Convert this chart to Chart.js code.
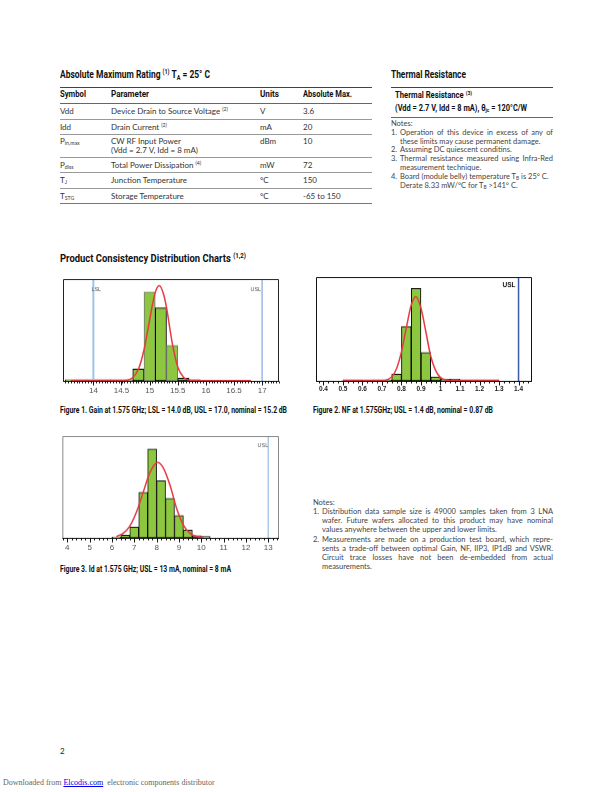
<!DOCTYPE html>
<html>
<head>
<meta charset="utf-8">
<script src="https://cdn.jsdelivr.net/npm/chart.js@4.4.1/dist/chart.umd.min.js"></script>
<style>
  html, body { margin: 0; padding: 0; background: #fff; }
  body { position: relative; width: 612px; height: 792px; overflow: hidden; font-family: Lato, 'Open Sans', sans-serif; color: #333; }
  .t { position: absolute; white-space: nowrap; line-height: 1; }
  .hd { font-family: Roboto, 'Liberation Sans', sans-serif; font-weight: bold; color: #111; transform-origin: 0 0; }
  .b8 { font-size: 8px; }
  .n7 { font-size: 7.5px; color: #444; }
  .n8 { font-size: 7.5px; color: #444; }
  .j { white-space: normal; text-align: justify; text-align-last: justify; }
  .rule { position: absolute; height: 0; border-top: 1px solid #999; }
  sub, sup { font-size: 65%; line-height: 0; }
  sub { vertical-align: -0.25em; }
  sup { vertical-align: 0.55em; }
  .wrap { position: absolute; }
</style>
</head>
<body>

<!-- Absolute maximum rating table -->
<div class="t hd" data-w="150" style="left:60px;top:68.5px;font-size:11.5px;">Absolute Maximum Rating <sup>(1)</sup> T<sub>A</sub> = 25° C</div>
<div class="rule" style="left:60px;top:87px;width:312px;border-color:#444;"></div>
<div class="t hd" data-w="26" style="left:60px;top:90.3px;font-size:8.6px;">Symbol</div>
<div class="t hd" data-w="38" style="left:111px;top:90.3px;font-size:8.6px;">Parameter</div>
<div class="t hd" data-w="19" style="left:260px;top:90.3px;font-size:8.6px;">Units</div>
<div class="t hd" data-w="49" style="left:303px;top:90.3px;font-size:8.6px;">Absolute Max.</div>
<div class="rule" style="left:60px;top:103px;width:312px;border-color:#666;"></div>

<div class="t b8" style="left:60px;top:106.5px;">Vdd</div>
<div class="t b8" style="left:111px;top:106.5px;">Device Drain to Source Voltage <sup>(2)</sup></div>
<div class="t b8" style="left:260px;top:106.5px;">V</div>
<div class="t b8" style="left:303px;top:106.5px;">3.6</div>
<div class="rule" style="left:60px;top:119px;width:312px;"></div>

<div class="t b8" style="left:60px;top:122.5px;">Idd</div>
<div class="t b8" style="left:111px;top:122.5px;">Drain Current <sup>(2)</sup></div>
<div class="t b8" style="left:260px;top:122.5px;">mA</div>
<div class="t b8" style="left:303px;top:122.5px;">20</div>
<div class="rule" style="left:60px;top:134px;width:312px;"></div>

<div class="t b8" style="left:60px;top:137px;">P<sub>in,max</sub></div>
<div class="t b8" style="left:111px;top:137px;">CW RF Input Power</div>
<div class="t b8" style="left:111px;top:146.3px;">(Vdd = 2.7 V, Idd = 8 mA)</div>
<div class="t b8" style="left:260px;top:137px;">dBm</div>
<div class="t b8" style="left:303px;top:137px;">10</div>
<div class="rule" style="left:60px;top:157px;width:312px;"></div>

<div class="t b8" style="left:60px;top:160.5px;">P<sub>diss</sub></div>
<div class="t b8" style="left:111px;top:160.5px;">Total Power Dissipation <sup>(4)</sup></div>
<div class="t b8" style="left:260px;top:160.5px;">mW</div>
<div class="t b8" style="left:303px;top:160.5px;">72</div>
<div class="rule" style="left:60px;top:172px;width:312px;"></div>

<div class="t b8" style="left:60px;top:175.5px;">T<sub>J</sub></div>
<div class="t b8" style="left:111px;top:175.5px;">Junction Temperature</div>
<div class="t b8" style="left:260px;top:175.5px;">°C</div>
<div class="t b8" style="left:303px;top:175.5px;">150</div>
<div class="rule" style="left:60px;top:188px;width:312px;"></div>

<div class="t b8" style="left:60px;top:191.5px;">T<sub>STG</sub></div>
<div class="t b8" style="left:111px;top:191.5px;">Storage Temperature</div>
<div class="t b8" style="left:260px;top:191.5px;">°C</div>
<div class="t b8" style="left:303px;top:191.5px;">-65 to 150</div>
<div class="rule" style="left:60px;top:203px;width:312px;border-color:#777;"></div>

<!-- Thermal resistance -->
<div class="t hd" data-w="75" style="left:391px;top:68.5px;font-size:11.5px;">Thermal Resistance</div>
<div class="rule" style="left:391px;top:87px;width:162px;border-color:#444;"></div>
<div class="t hd" data-w="77" style="left:395px;top:90.7px;font-size:9px;">Thermal Resistance <sup>(3)</sup></div>
<div class="t hd" data-w="132" style="left:395px;top:103.7px;font-size:9px;">(Vdd = 2.7 V, Idd = 8 mA), θ<sub>jc</sub> = 120°C/W</div>
<div class="rule" style="left:391px;top:117px;width:162px;border-color:#666;"></div>
<div class="t n7" style="left:391px;top:120px;">Notes:</div>
<div class="t n7" style="left:391px;top:129px;">1.</div>
<div class="t n7 j" style="left:400px;top:129px;width:153px;">Operation of this device in excess of any of</div>
<div class="t n7" style="left:400px;top:137.6px;">these limits may cause permanent damage.</div>
<div class="t n7" style="left:391px;top:146.4px;">2.</div>
<div class="t n7" style="left:400px;top:146.4px;">Assuming DC quiescent conditins.</div>
<div class="t n7" style="left:391px;top:155px;">3.</div>
<div class="t n7 j" style="left:400px;top:155px;width:153px;">Thermal resistance measured using Infra-Red</div>
<div class="t n7" style="left:400px;top:163.6px;">measurement technique.</div>
<div class="t n7" style="left:391px;top:173px;">4.</div>
<div class="t n7" style="left:400px;top:173px;">Board (module belly) temperature T<sub>B</sub> is 25° C.</div>
<div class="t n7" style="left:400px;top:182px;">Derate 8.33 mW/°C for T<sub>B</sub> &gt;141° C.</div>

<!-- Distribution charts -->
<div class="t hd" data-w="186" style="left:60px;top:252.5px;font-size:11.5px;">Product Consistency Distribution Charts <sup>(1,2)</sup></div>

<div class="wrap" id="wrap-gain"><canvas id="chart-gain"></canvas></div>
<div class="wrap" id="wrap-nf"><canvas id="chart-nf"></canvas></div>
<div class="wrap" id="wrap-id"><canvas id="chart-id"></canvas></div>

<div class="t hd" data-w="227" style="left:60px;top:405.5px;font-size:8.6px;">Figure 1. Gain at 1.575 GHz; LSL = 14.0 dB, USL = 17.0, nominal = 15.2 dB</div>
<div class="t hd" data-w="180" style="left:313px;top:405.5px;font-size:8.6px;">Figure 2. NF at 1.575GHz; USL = 1.4 dB, nominal = 0.87 dB</div>
<div class="t hd" data-w="171" style="left:60px;top:564.5px;font-size:8.6px;">Figure 3. Id at 1.575 GHz; USL = 13 mA, nominal = 8 mA</div>

<div class="t n8" style="left:313px;top:499px;">Notes:</div>
<div class="t n8" style="left:313px;top:508px;">1.</div>
<div class="t n8 j" style="left:322px;top:508px;width:231px;">Distribution data sample size is 49000 samples taken from 3 LNA</div>
<div class="t n8 j" style="left:322px;top:517px;width:231px;">wafer. Future wafers allocated to this product may have nominal</div>
<div class="t n8" style="left:322px;top:526px;">values anywhere between the upper and lower limits.</div>
<div class="t n8" style="left:313px;top:536px;">2.</div>
<div class="t n8 j" style="left:322px;top:536px;width:231px;">Measurements are made on a production test board, which repre-</div>
<div class="t n8 j" style="left:322px;top:545px;width:231px;">sents a trade-off between optimal Gain, NF, IIP3, IP1dB and VSWR.</div>
<div class="t n8 j" style="left:322px;top:554px;width:231px;">Circuit trace losses have not been de-embedded from actual</div>
<div class="t n8" style="left:322px;top:563px;">measurements.</div>

<div class="t" style="left:60px;top:747.4px;font-size:8px;color:#222;">2</div>
<div class="t" style="left:3px;top:779px;font-size:8px;color:#666;font-family:'Liberation Serif','DejaVu Serif',serif;">Downloaded from <span style="color:#00e;text-decoration:underline;">Elcodis.com</span> &nbsp;electronic components distributor</div>

<script>
// Figure 1: Gain (dB), bins 0.2 dB wide, % of samples
var gainBinMid = [13.6, 13.8, 14.0, 14.2, 14.4, 14.6, 14.8, 15.0, 15.2, 15.4, 15.6, 15.8];
var gainBinPct = [0.6, 0.6, 0.6, 0.6, 0.6, 0.6, 5.5, 41.5, 34.1, 16.6, 1.3, 0.6];
var gainBinEdge = ['#222', '#222', '#222', '#222', '#222', '#888', '#000', '#777', '#000', '#777', '#000', '#000'];
var gainFitX = [13.6, 14.0, 14.4, 14.6, 14.7, 14.8, 14.9, 15.0, 15.05, 15.1, 15.17, 15.25, 15.3, 15.4, 15.5, 15.6, 15.7, 15.8, 16.0, 16.4, 16.8];
var gainFitY = [0.1, 0.1, 0.1, 0.3, 1.5, 5.4, 14.5, 28.5, 35.6, 41.3, 44.5, 40.3, 34.3, 18.0, 6.5, 1.8, 0.4, 0.1, 0.1, 0.1, 0.1];
var gainTicks = [14, 14.5, 15, 15.5, 16, 16.5, 17];
var gainLSL = 14.0;
var gainUSL = 17.0;

// Figure 2: NF (dB), bins 0.05 dB wide
var nfBinMid = [0.525, 0.575, 0.675, 0.725, 0.775, 0.825, 0.875, 0.925, 0.975, 1.025, 1.075, 1.125, 1.175, 1.225, 1.275];
var nfBinPct = [0.5, 0.5, 0.5, 0.5, 3.6, 28.6, 48.7, 14.9, 2.1, 0.9, 0.9, 0.5, 0.5, 0.5, 0.5];
var nfFitX = [0.5, 0.6, 0.7, 0.75, 0.775, 0.8, 0.825, 0.85, 0.873, 0.9, 0.925, 0.95, 0.975, 1.0, 1.05, 1.1, 1.2, 1.3];
var nfFitY = [0.2, 0.2, 0.2, 2.1, 6.5, 15.3, 28.0, 40.0, 44.4, 38.4, 25.9, 13.0, 5.5, 1.8, 0.2, 0.2, 0.2, 0.2];
var nfTicks = [0.4, 0.5, 0.6, 0.7, 0.8, 0.9, 1, 1.1, 1.2, 1.3, 1.4];
var nfUSL = 1.4;

// Figure 3: Id (mA), bins 0.4 mA wide
var idBinMid = [6.2, 6.6, 7.0, 7.4, 7.8, 8.2, 8.6, 9.0, 9.4, 9.8, 10.2];
var idBinPct = [0.3, 1.0, 3.9, 16.3, 31.9, 20.5, 14.2, 8.0, 2.8, 0.8, 0.5];
var idFitX = [6.2, 6.5, 6.8, 7.1, 7.4, 7.7, 8.05, 8.3, 8.6, 8.9, 9.2, 9.5, 9.8, 10.1];
var idFitY = [0.5, 1.6, 4.2, 9.3, 16.4, 23.4, 27.0, 25.1, 18.9, 10.5, 4.6, 1.6, 0.5, 0.2];
var idTicks = [4, 5, 6, 7, 8, 9, 10, 11, 12, 13];
var idUSL = 13;

var GREEN = '#8dc63f';
var RED = '#e63a44';

function xy(xs, ys) {
    return xs.map(function (x, i) { return { x: x, y: ys[i] }; });
}

// squeeze bold headings to the condensed widths of the original
function condense() {
    var els = document.querySelectorAll('.hd');
    for (var i = 0; i < els.length; i++) {
        var el = els[i];
        el.style.transform = 'none';
        var w = el.getBoundingClientRect().width;
        var target = parseFloat(el.getAttribute('data-w'));
        var s = target && w ? target / w : 0.8;
        el.style.transform = 'scaleX(' + s + ')';
    }
}

var framePlugin = {
    id: 'frame',
    afterDatasetsDraw: function (chart) {
        var o = chart.options.plugins.frame;
        var a = chart.chartArea;
        var sx = chart.scales.x;
        var ctx = chart.ctx;
        ctx.save();
        ctx.lineWidth = 1;
        // plot box
        ctx.strokeStyle = o.frameColor;
        ctx.beginPath();
        ctx.moveTo(a.left + 0.5, a.bottom);
        ctx.lineTo(a.left + 0.5, a.top + 0.5);
        ctx.lineTo(a.right - 0.5, a.top + 0.5);
        ctx.lineTo(a.right - 0.5, a.bottom);
        ctx.stroke();
        // axis line + tick marks
        ctx.strokeStyle = '#111';
        var yb = Math.round(a.bottom) + 0.5;
        ctx.beginPath();
        ctx.moveTo(a.left, yb);
        ctx.lineTo(a.right, yb);
        for (var v = o.minorFrom; v <= sx.max + 1e-9; v += o.minorStep) {
            var px = Math.round(sx.getPixelForValue(v)) + 0.5;
            ctx.moveTo(px, yb);
            ctx.lineTo(px, yb + 2);
        }
        o.majors.forEach(function (m) {
            var px = Math.round(sx.getPixelForValue(m)) + 0.5;
            ctx.moveTo(px, yb);
            ctx.lineTo(px, yb + 4);
        });
        ctx.stroke();
        // spec limit labels
        o.labels.forEach(function (l) {
            ctx.font = l.font;
            ctx.fillStyle = l.color;
            ctx.textAlign = l.align;
            ctx.textBaseline = 'middle';
            ctx.fillText(l.text, sx.getPixelForValue(l.value) + l.dx, a.top + l.dy);
        });
        ctx.restore();
    }
};

function histChart(c) {
    var wrap = document.getElementById(c.wrap);
    var b = c.box;
    var axisH = c.tickPad + c.tickFont.size * 1.2;
    wrap.style.left = (b[0] - 2) + 'px';
    wrap.style.top = (b[1] - 2) + 'px';
    wrap.style.width = (b[2] - b[0] + 4) + 'px';
    wrap.style.height = (b[3] - b[1] + 2 + axisH) + 'px';

    var datasets = [
        {
            type: 'bar',
            data: c.bars,
            backgroundColor: GREEN,
            borderColor: c.barEdge,
            borderWidth: 1,
            borderSkipped: false,
            barPercentage: 1,
            categoryPercentage: 1,
            order: 3
        },
        {
            type: 'line',
            data: c.fit,
            borderColor: RED,
            borderWidth: 1.5,
            pointRadius: 0,
            cubicInterpolationMode: 'monotone',
            order: 1
        }
    ];
    c.limits.forEach(function (l) {
        datasets.push({
            type: 'line',
            data: [{ x: l.value, y: 0 }, { x: l.value, y: c.yMax }],
            borderColor: l.color,
            borderWidth: l.width,
            pointRadius: 0,
            order: 2
        });
    });

    new Chart(document.getElementById(c.canvas).getContext('2d'), {
        type: 'scatter',
        data: { datasets: datasets },
        options: {
            responsive: true,
            maintainAspectRatio: false,
            animation: false,
            layout: { padding: { left: 2, right: 2, top: 2, bottom: 0 } },
            plugins: {
                legend: { display: false },
                tooltip: { enabled: false },
                frame: {
                    frameColor: c.frameColor,
                    majors: c.ticks,
                    minorFrom: c.minorFrom,
                    minorStep: c.minorStep,
                    labels: c.limits.map(function (l) { return l.label; })
                }
            },
            scales: {
                x: {
                    type: 'linear',
                    min: c.xMin,
                    max: c.xMax,
                    offset: false,
                    grid: { display: false, drawTicks: false },
                    border: { display: false },
                    afterBuildTicks: function (s) {
                        s.ticks = c.ticks.map(function (v) { return { value: v }; });
                    },
                    ticks: {
                        autoSkip: false,
                        maxRotation: 0,
                        padding: c.tickPad,
                        font: c.tickFont,
                        color: c.tickColor,
                        callback: function (v) { return String(v); }
                    }
                },
                y: { display: false, min: 0, max: c.yMax }
            }
        },
        plugins: [framePlugin]
    });
}

function boot() {
    condense();
    if (document.fonts && document.fonts.ready) {
        document.fonts.ready.then(condense);
    }
    if (typeof Chart === 'undefined') return;
    var sans = "'Liberation Sans', Arial, sans-serif";

    histChart({
        wrap: 'wrap-gain', canvas: 'chart-gain',
        box: [63, 279, 279, 385],
        xMin: 13.46, xMax: 17.3, yMax: 47.6,
        bars: xy(gainBinMid, gainBinPct), barEdge: gainBinEdge,
        fit: xy(gainFitX, gainFitY),
        ticks: gainTicks, minorFrom: 13.5, minorStep: 0.05,
        tickPad: 5, tickFont: { size: 8, family: sans }, tickColor: '#555',
        frameColor: '#222',
        limits: [
            { value: gainLSL, color: '#9fc4ea', width: 2,
              label: { text: 'LSL', value: gainLSL, dx: -2, dy: 10, align: 'left', font: '5.5px ' + sans, color: '#555' } },
            { value: gainUSL, color: '#9fb8e6', width: 1.5,
              label: { text: 'USL', value: gainUSL, dx: -1, dy: 10, align: 'right', font: '5.5px ' + sans, color: '#555' } }
        ]
    });

    histChart({
        wrap: 'wrap-nf', canvas: 'chart-nf',
        box: [316, 277, 532, 384],
        xMin: 0.362, xMax: 1.469, yMax: 54.7,
        bars: xy(nfBinMid, nfBinPct), barEdge: '#000',
        fit: xy(nfFitX, nfFitY),
        ticks: nfTicks, minorFrom: 0.375, minorStep: 0.025,
        tickPad: 4, tickFont: { size: 6.5, weight: 'bold', family: sans }, tickColor: '#222',
        frameColor: '#111',
        limits: [
            { value: nfUSL, color: '#3c5aa8', width: 1.5,
              label: { text: 'USL', value: nfUSL, dx: -3, dy: 8, align: 'right', font: 'bold 6.5px ' + sans, color: '#111' } }
        ]
    });

    histChart({
        wrap: 'wrap-id', canvas: 'chart-id',
        box: [62, 436, 279, 542],
        xMin: 3.78, xMax: 13.48, yMax: 36.5,
        bars: xy(idBinMid, idBinPct), barEdge: '#111',
        fit: xy(idFitX, idFitY),
        ticks: idTicks, minorFrom: 3.8, minorStep: 0.2,
        tickPad: 5, tickFont: { size: 8, family: sans }, tickColor: '#555',
        frameColor: '#888',
        limits: [
            { value: idUSL, color: '#a9cbe9', width: 1.5,
              label: { text: 'USL', value: idUSL, dx: 0, dy: 9, align: 'right', font: '5.5px ' + sans, color: '#555' } }
        ]
    });
}

if (document.readyState === 'loading') {
    document.addEventListener('DOMContentLoaded', boot);
} else {
    boot();
}
</script>
</body>
</html>
